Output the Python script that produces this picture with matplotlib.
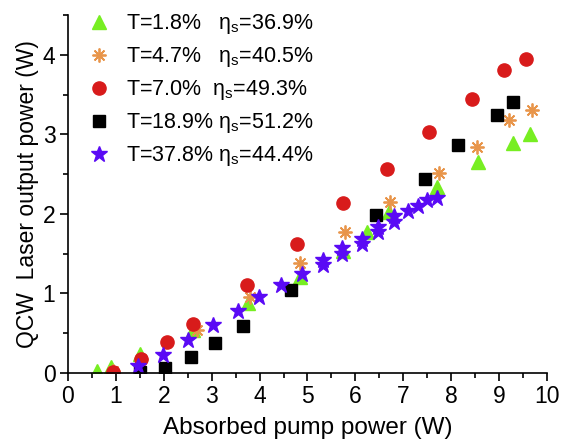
import matplotlib
matplotlib.use("Agg")
import matplotlib.pyplot as plt
from matplotlib.ticker import MultipleLocator

plt.rcParams['font.family'] = ['Liberation Sans', 'DejaVu Sans']
plt.rcParams['mathtext.fontset'] = 'custom'
plt.rcParams['mathtext.rm'] = 'Liberation Sans'
plt.rcParams['mathtext.it'] = 'Liberation Sans:italic'

# T = 1.8 %
x_t18 = [0.6, 0.9, 1.5, 2.6, 3.75, 4.85, 5.75, 6.25, 6.7, 7.7, 8.55, 9.3, 9.65]
y_t18 = [0.02, 0.07, 0.24, 0.54, 0.88, 1.21, 1.53, 1.77, 2.03, 2.34, 2.65, 2.89, 3.0]
# T = 4.7 %
x_t47 = [0.94, 1.52, 2.69, 3.8, 4.84, 5.78, 6.72, 7.75, 8.54, 9.2, 9.68]
y_t47 = [0.03, 0.18, 0.54, 0.96, 1.38, 1.77, 2.15, 2.51, 2.84, 3.18, 3.3]
# T = 7.0 %
x_t70 = [0.94, 1.52, 2.06, 2.62, 3.74, 4.78, 5.74, 6.66, 7.54, 8.43, 9.1, 9.56]
y_t70 = [0.01, 0.18, 0.39, 0.62, 1.1, 1.62, 2.14, 2.56, 3.03, 3.44, 3.81, 3.95]
# T = 18.9 %
x_t189 = [1.5, 2.03, 2.57, 3.07, 3.66, 4.65, 6.43, 7.45, 8.14, 8.96, 9.29]
y_t189 = [0.01, 0.06, 0.2, 0.38, 0.59, 1.04, 1.98, 2.44, 2.86, 3.24, 3.41]
# T = 37.8 %
x_t378 = [1.46, 1.98, 2.51, 3.03, 3.55, 3.98, 4.44, 4.88, 5.33, 5.33, 5.72, 5.72,
          6.14, 6.14, 6.47, 6.47, 6.8, 6.8, 7.1, 7.3, 7.5, 7.7]
y_t378 = [0.09, 0.23, 0.42, 0.6, 0.78, 0.96, 1.11, 1.24, 1.42, 1.36, 1.57, 1.5,
          1.69, 1.62, 1.84, 1.77, 1.97, 1.9, 2.04, 2.1, 2.17, 2.2]

labels = [r"T=1.8%   η$_{\rm s}$=36.9%",
          r"T=4.7%   η$_{\rm s}$=40.5%",
          r"T=7.0%  η$_{\rm s}$=49.3%",
          r"T=18.9% η$_{\rm s}$=51.2%",
          r"T=37.8% η$_{\rm s}$=44.4%"]

fig = plt.figure(figsize=(5.68, 4.45), dpi=100)
ax = fig.add_axes([0.1197, 0.1618, 0.8433, 0.8045])

ax.plot(x_t18, y_t18, ls='none', marker='^', ms=10, color='#77EE22', label=labels[0])
ax.plot(x_t47, y_t47, ls='none', marker=(8, 2, 0), ms=10, mew=1.3, color='#E8954A', label=labels[1])
ax.plot(x_t70, y_t70, ls='none', marker='o', ms=9.5, color='#D81B1B', label=labels[2])
ax.plot(x_t189, y_t189, ls='none', marker='s', ms=8.5, color='black', label=labels[3])
ax.plot(x_t378, y_t378, ls='none', marker='*', ms=12, color='#5A0AF5', label=labels[4])

ax.set_xlim(0, 10)
ax.set_ylim(0, 4.5)
ax.xaxis.set_major_locator(MultipleLocator(1))
ax.xaxis.set_minor_locator(MultipleLocator(0.5))
ax.yaxis.set_major_locator(MultipleLocator(1))
ax.yaxis.set_minor_locator(MultipleLocator(0.5))
ax.spines['top'].set_visible(False)
ax.spines['right'].set_visible(False)
ax.tick_params(which='major', direction='out', length=6, width=1.2, labelsize=16.5, pad=3)
ax.tick_params(which='minor', direction='out', length=3.5, width=1.2)
for s in ('left', 'bottom'):
    ax.spines[s].set_linewidth(1.2)

ax.set_xlabel('Absorbed pump power (W)', fontsize=17.5, labelpad=6)
ax.set_ylabel('QCW  Laser output power (W)', fontsize=16.5, labelpad=3)

ax.legend(loc='upper left', bbox_to_anchor=(0.0, 1.05), frameon=False, fontsize=15.5,
          handletextpad=0.5, labelspacing=0.42, borderaxespad=0.3, handlelength=1.5)

fig.savefig('out.png', dpi=100)
